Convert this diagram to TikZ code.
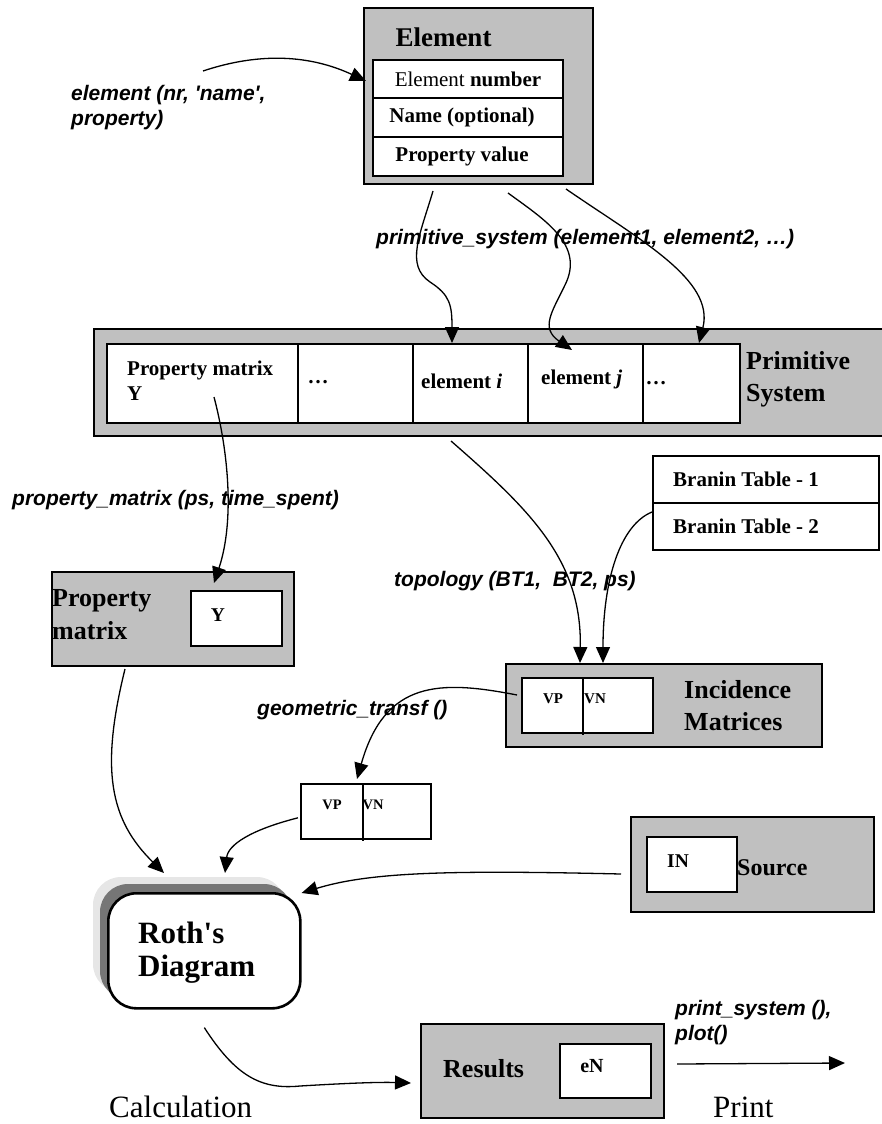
\documentclass[tikz,border=0pt]{standalone}
\usepackage{fontspec}
\setmainfont{Liberation Serif}
\newfontfamily\labfont{Liberation Sans}
\usetikzlibrary{arrows.meta,calc}
\definecolor{boxgray}{HTML}{C0C0C0}
\definecolor{shdark}{HTML}{767676}
\definecolor{shlight}{HTML}{E6E6E6}
\newcommand\bx[6]{\node[#6,anchor=north west,inner sep=0pt,minimum width={(#4-#2)*1pt},minimum height={(#5-#3)*1pt}] (#1) at (#2,#3) {};}
\begin{document}
\begin{tikzpicture}[x=1pt,y=-1pt,
  obox/.style={draw,line width=2pt,fill=boxgray},
  ibox/.style={draw,line width=2pt,fill=white},
  sbox/.style={draw,line width=1.6pt,fill=white},
  divl/.style={line width=1.3pt},
  conn/.style={line width=1.3pt,-{Triangle[length=16pt,width=14pt]}},
  txt/.style={inner sep=0pt},
  ttl/.style={txt,font={\bfseries\fontsize{26}{32}\selectfont}},
  cellf/.style={txt,font={\bfseries\fontsize{21}{25}\selectfont}},
  rowf/.style={txt,font={\fontsize{21}{25}\selectfont}},
  smallf/.style={txt,font={\bfseries\fontsize{15}{18}\selectfont}},
  midf/.style={txt,font={\bfseries\fontsize{19.5}{23}\selectfont}},
  rothf/.style={txt,font={\bfseries\fontsize{31}{33}\selectfont}},
  bigf/.style={txt,font={\fontsize{31}{35}\selectfont}},
  lab/.style={txt,font={\labfont\bfseries\itshape\fontsize{21}{25}\selectfont}}]
\useasboundingbox (0,0) rectangle (882,1124);

% Element
\bx{elem}{363}{7}{592}{183}{obox}
\bx{er1}{372}{59}{562}{97}{ibox}
\bx{er2}{372}{97}{562}{136}{ibox}
\bx{er3}{372}{136}{562}{175}{ibox}
\node[ttl,font={\bfseries\fontsize{27}{32}\selectfont}] (tElem) at (443.5,37) {Element};
\node[rowf] (tR1) at (er1.center) {Element \textbf{number}};
\node[rowf] (tR2) at ([xshift=-6pt]er2.center) {\textbf{Name (optional)}};
\node[rowf] (tR3) at ([xshift=-6pt]er3.center) {\textbf{Property value}};

% Primitive system
\bx{prim}{93}{328}{890}{435}{obox}
\bx{pc1}{106}{343}{297}{422}{ibox}
\bx{pc2}{297}{343}{412}{422}{ibox}
\bx{pc3}{412}{343}{527}{422}{ibox}
\bx{pc4}{527}{343}{642}{422}{ibox}
\bx{pc5}{642}{343}{739}{422}{ibox}
\node[cellf,anchor=west,align=left] (tPM) at (127,381) {Property matrix\\Y};
\node[cellf] (tD1) at (318,382) {…};
\node[cellf,anchor=west] (tEi) at (421,381) {element \textit{i}};
\node[cellf,anchor=west] (tEj) at (541,379) {element \textit{j}};
\node[cellf] (tD2) at (656,383) {…};
\node[ttl,anchor=west,align=left] (tPS) at (746,379) {Primitive\\System};

% Branin tables
\bx{bt1}{652}{455}{878}{502}{ibox}
\bx{bt2}{652}{502}{878}{549}{ibox}
\node[cellf,anchor=west] (tB1) at (673,479) {Branin Table - 1};
\node[cellf,anchor=west] (tB2) at (673,526) {Branin Table - 2};

% Property matrix
\bx{pm}{51}{571}{293}{665}{obox}
\bx{pmy}{190}{590}{281}{645}{ibox}
\node[ttl,anchor=west,align=left,font={\bfseries\fontsize{26}{33}\selectfont}] (tPMx) at (52,615) {Property\\matrix};
\node[midf] (tY) at (218,615) {Y};

% Incidence matrices
\bx{inc}{505}{663}{821}{746}{obox}
\bx{incin}{521}{677}{652}{732}{ibox}
\draw[divl] (583,677) -- (583,735);
\node[smallf] (tVP1) at (553,699) {VP};
\node[smallf] (tVN1) at (595,699) {VN};
\node[ttl,anchor=west,align=left] (tInc) at (684,706) {Incidence\\Matrices};

% transformed VP/VN
\bx{sm}{300}{783}{430}{838}{sbox}
\draw[divl] (363,783) -- (363,841);
\node[smallf,font={\bfseries\fontsize{14.5}{17}\selectfont}] (tVP2) at (332,805) {VP};
\node[smallf,font={\bfseries\fontsize{14.5}{17}\selectfont}] (tVN2) at (373,805) {VN};

% Source
\bx{src}{630}{816}{873}{911}{obox}
\bx{srcin}{646}{836}{736}{891}{ibox}
\node[midf] (tIN) at (678,861) {IN};
\node[ttl,anchor=west,font={\bfseries\fontsize{24}{28}\selectfont}] (tSrc) at (737,868) {Source};

% Roth's diagram
\fill[shlight,rounded corners=28pt] (93,877) rectangle ++(192,115);
\fill[shdark,rounded corners=28pt] (100,884) rectangle ++(192,115);
\node[draw,line width=2.6pt,fill=white,rounded corners=28pt,anchor=north west,inner sep=0pt,minimum width=192pt,minimum height=115pt] (roth) at (107,892) {};
\node[rothf,anchor=west,align=left] (tRoth) at (138,953) {Roth\textquotesingle s\\Diagram};

% Results
\bx{res}{420}{1023}{663}{1117}{obox}
\bx{resin}{559}{1043}{650}{1097}{ibox}
\node[ttl,anchor=west] (tRes) at (443,1069) {Results};
\node[midf,font={\bfseries\fontsize{20}{23}\selectfont}] (teN) at (592,1066) {eN};

% bottom captions
\node[bigf,anchor=west] (tCalc) at (109,1107) {Calculation};
\node[bigf,anchor=west] (tPrint) at (713,1107) {Print};

% function labels
\node[lab,anchor=west,align=left] (lElem) at (71,108) {element (nr, 'name',\\property)};
\node[lab,anchor=west] (lPrim) at (376,239) {primitive\_system (element1, element2, …)};
\node[lab,anchor=west] (lPM) at (12,500) {property\_matrix (ps, time\_spent)};
\node[lab,anchor=west] (lTop) at (394,581) {topology (BT1,\ \ BT2, ps)};
\node[lab,anchor=west] (lGeo) at (257,710) {geometric\_transf ()};
\node[lab,anchor=west,align=left] (lPrint) at (675,1023) {print\_system (),\\plot()};

% connectors
\coordinate (sA) at (203,71);
\draw[conn] (sA) .. controls (260,52) and (310,55) .. ([xshift=-6pt,yshift=-2pt]er1.west);
\draw[conn] ([xshift=-45.5pt,yshift=-6pt]elem.south) .. controls (420,235) and (405,265) .. (430,282)
  .. controls (450,295) and (452,305) .. ([xshift=40pt]pc3.north west);
\draw[conn] ([xshift=29.5pt,yshift=-8pt]elem.south) .. controls (545,220) and (585,245) .. (565,285)
  .. controls (552,312) and (540,328) .. ([xshift=45pt,yshift=-7pt]pc4.north west);
\draw[conn] ([xshift=-28pt,yshift=-4pt]elem.south east) .. controls (640,240) and (715,280) .. ([xshift=57pt]pc5.north west);
\draw[conn] ([xshift=108pt,yshift=-54pt]pc1.north west) .. controls (228,450) and (235,520) .. ([xshift=24pt,yshift=7pt]pmy.north west);
\draw[conn] ([xshift=358pt,yshift=-4pt]prim.south west) .. controls (530,510) and (582,560) .. ([xshift=75pt]inc.north west);
\draw[conn] ([yshift=14.5pt]bt2.west) .. controls (620,525) and (603,580) .. ([xshift=98pt]inc.north west);
\draw[conn] ([xshift=74pt,yshift=-2pt]pm.south west) .. controls (100,770) and (110,820) .. ([xshift=57pt,yshift=19pt]roth.north west);
\draw[conn] ([xshift=-4pt,yshift=10.5pt]incin.west) .. controls (440,680) and (385,680) .. ([xshift=57pt,yshift=4pt]sm.north west);
\draw[conn] ([xshift=-2pt,yshift=-6.5pt]sm.west) .. controls (250,830) and (228,845) .. ([xshift=118pt,yshift=19pt]roth.north west);
\draw[conn] ([xshift=-9pt,yshift=-9.5pt]src.west) .. controls (450,870) and (370,872) .. ([yshift=-1pt]roth.north east);
\draw[conn] ([yshift=-18pt]roth.south) .. controls (235,1075) and (260,1090) .. (300,1086)
  .. controls (350,1083) and (380,1082) .. ([xshift=-9pt,yshift=-12pt]res.west);
\coordinate (pe) at (845,1063);
\draw[conn] ([xshift=12pt,yshift=7pt]res.east) -- (pe);
\end{tikzpicture}
\end{document}
